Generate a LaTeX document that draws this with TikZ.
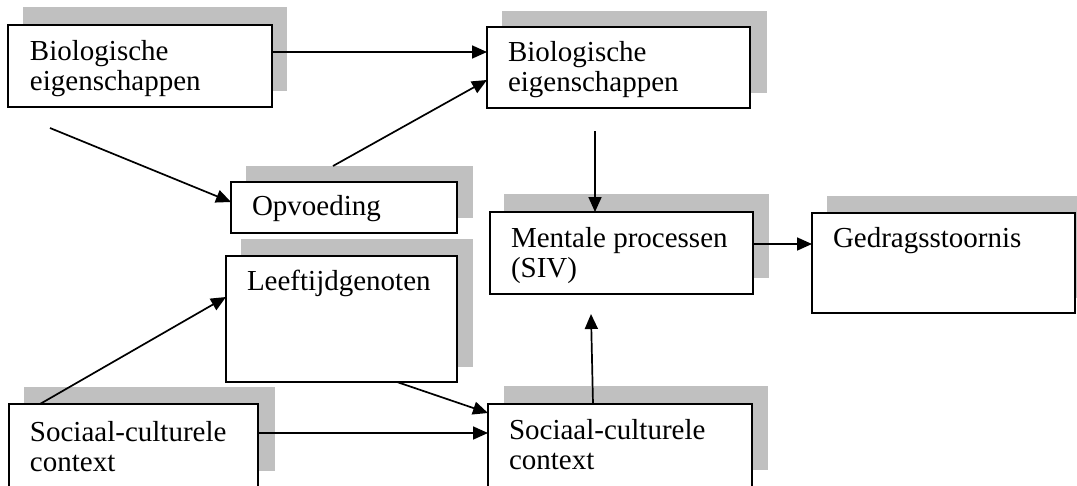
\documentclass[tikz,border=0pt]{standalone}
\usepackage{fontspec}
\setmainfont{Liberation Serif}
\usetikzlibrary{arrows.meta}
\definecolor{shadowgray}{RGB}{192,192,192}
\tikzset{
  boxnode/.style={draw=black, fill=white, line width=2pt, rectangle, inner sep=0pt, outer sep=0pt, anchor=north west},
  shadowfill/.style={fill=shadowgray},
  txt/.style={inner sep=0pt, outer sep=0pt, anchor=base west, align=left, font=\fontsize{29}{30}\selectfont},
  arr/.style={line width=1.7pt, -{Triangle[length=15pt,width=13pt]}}
}
\begin{document}
\begin{tikzpicture}[x=1pt,y=-1pt]
\useasboundingbox (0,0) rectangle (1077,485);
% shadows
\fill[shadowfill] (23,7) rectangle (287,91);
\fill[shadowfill] (502,11) rectangle (767,93);
\fill[shadowfill] (246,166) rectangle (473,218);
\fill[shadowfill] (241,239) rectangle (473,367);
\fill[shadowfill] (24,387) rectangle (275,471);
\fill[shadowfill] (504,194) rectangle (769,278);
\fill[shadowfill] (827,196) rectangle (1095,298);
\fill[shadowfill] (504,386) rectangle (768,470);
% boxes
\node[boxnode, minimum width=264pt, minimum height=82pt] (b1) at (8,25) {};
\node[boxnode, minimum width=263pt, minimum height=81pt] (b2) at (487,27) {};
\node[boxnode, minimum width=226pt, minimum height=51pt] (b3) at (231,182) {};
\node[boxnode, minimum width=231pt, minimum height=126pt] (b4) at (226,256) {};
\node[boxnode, minimum width=249pt, minimum height=110pt] (b5) at (9,404) {};
\node[boxnode, minimum width=263pt, minimum height=82pt] (b6) at (490,212) {};
\node[boxnode, minimum width=263pt, minimum height=100pt] (b7) at (812,213) {};
\node[boxnode, minimum width=264pt, minimum height=110pt] (b8) at (488,404) {};
% texts (base anchor = baseline of last line)
\node[txt] (t1) at (30,90) {Biologische\\eigenschappen};
\node[txt] (t2) at (508,91) {Biologische\\eigenschappen};
\node[txt] (t3) at (252,215) {Opvoeding};
\node[txt] (t4) at (247,290) {Leeftijdgenoten};
\node[txt] (t5) at (30,471) {Sociaal-culturele\\context};
\node[txt] (t6) at (511,277) {Mentale processen\\(SIV)};
\node[txt] (t7) at (833,247) {Gedragsstoornis};
\node[txt] (t8) at (509,469) {Sociaal-culturele\\context};
% free ends
\coordinate (c1) at (50,128);
\coordinate (c2) at (333,166);
\coordinate (c3) at (595,131);
\coordinate (c4) at (591,314);
\coordinate (c5) at (593,404);
\coordinate (c6) at (397,382);
\coordinate (c7) at (40,404);
% connectors
\draw[arr] (b1.east |- 0,52) -- (b2.west |- 0,52);
\draw[arr] (c1) -- (b3.west |- 0,202);
\draw[arr] (c2) -- (b2.west |- 0,80);
\draw[arr] (c3) -- (c3 |- b6.north);
\draw[arr] (b6.east |- 0,244) -- (b7.west |- 0,244);
\draw[arr] (c5) -- (c4);
\draw[arr] (c6) -- (b8.west |- 0,413);
\draw[arr] (b5.east |- 0,433) -- (b8.west |- 0,433);
\draw[arr] (c7) -- (b4.west |- 0,297);
\end{tikzpicture}
\end{document}
